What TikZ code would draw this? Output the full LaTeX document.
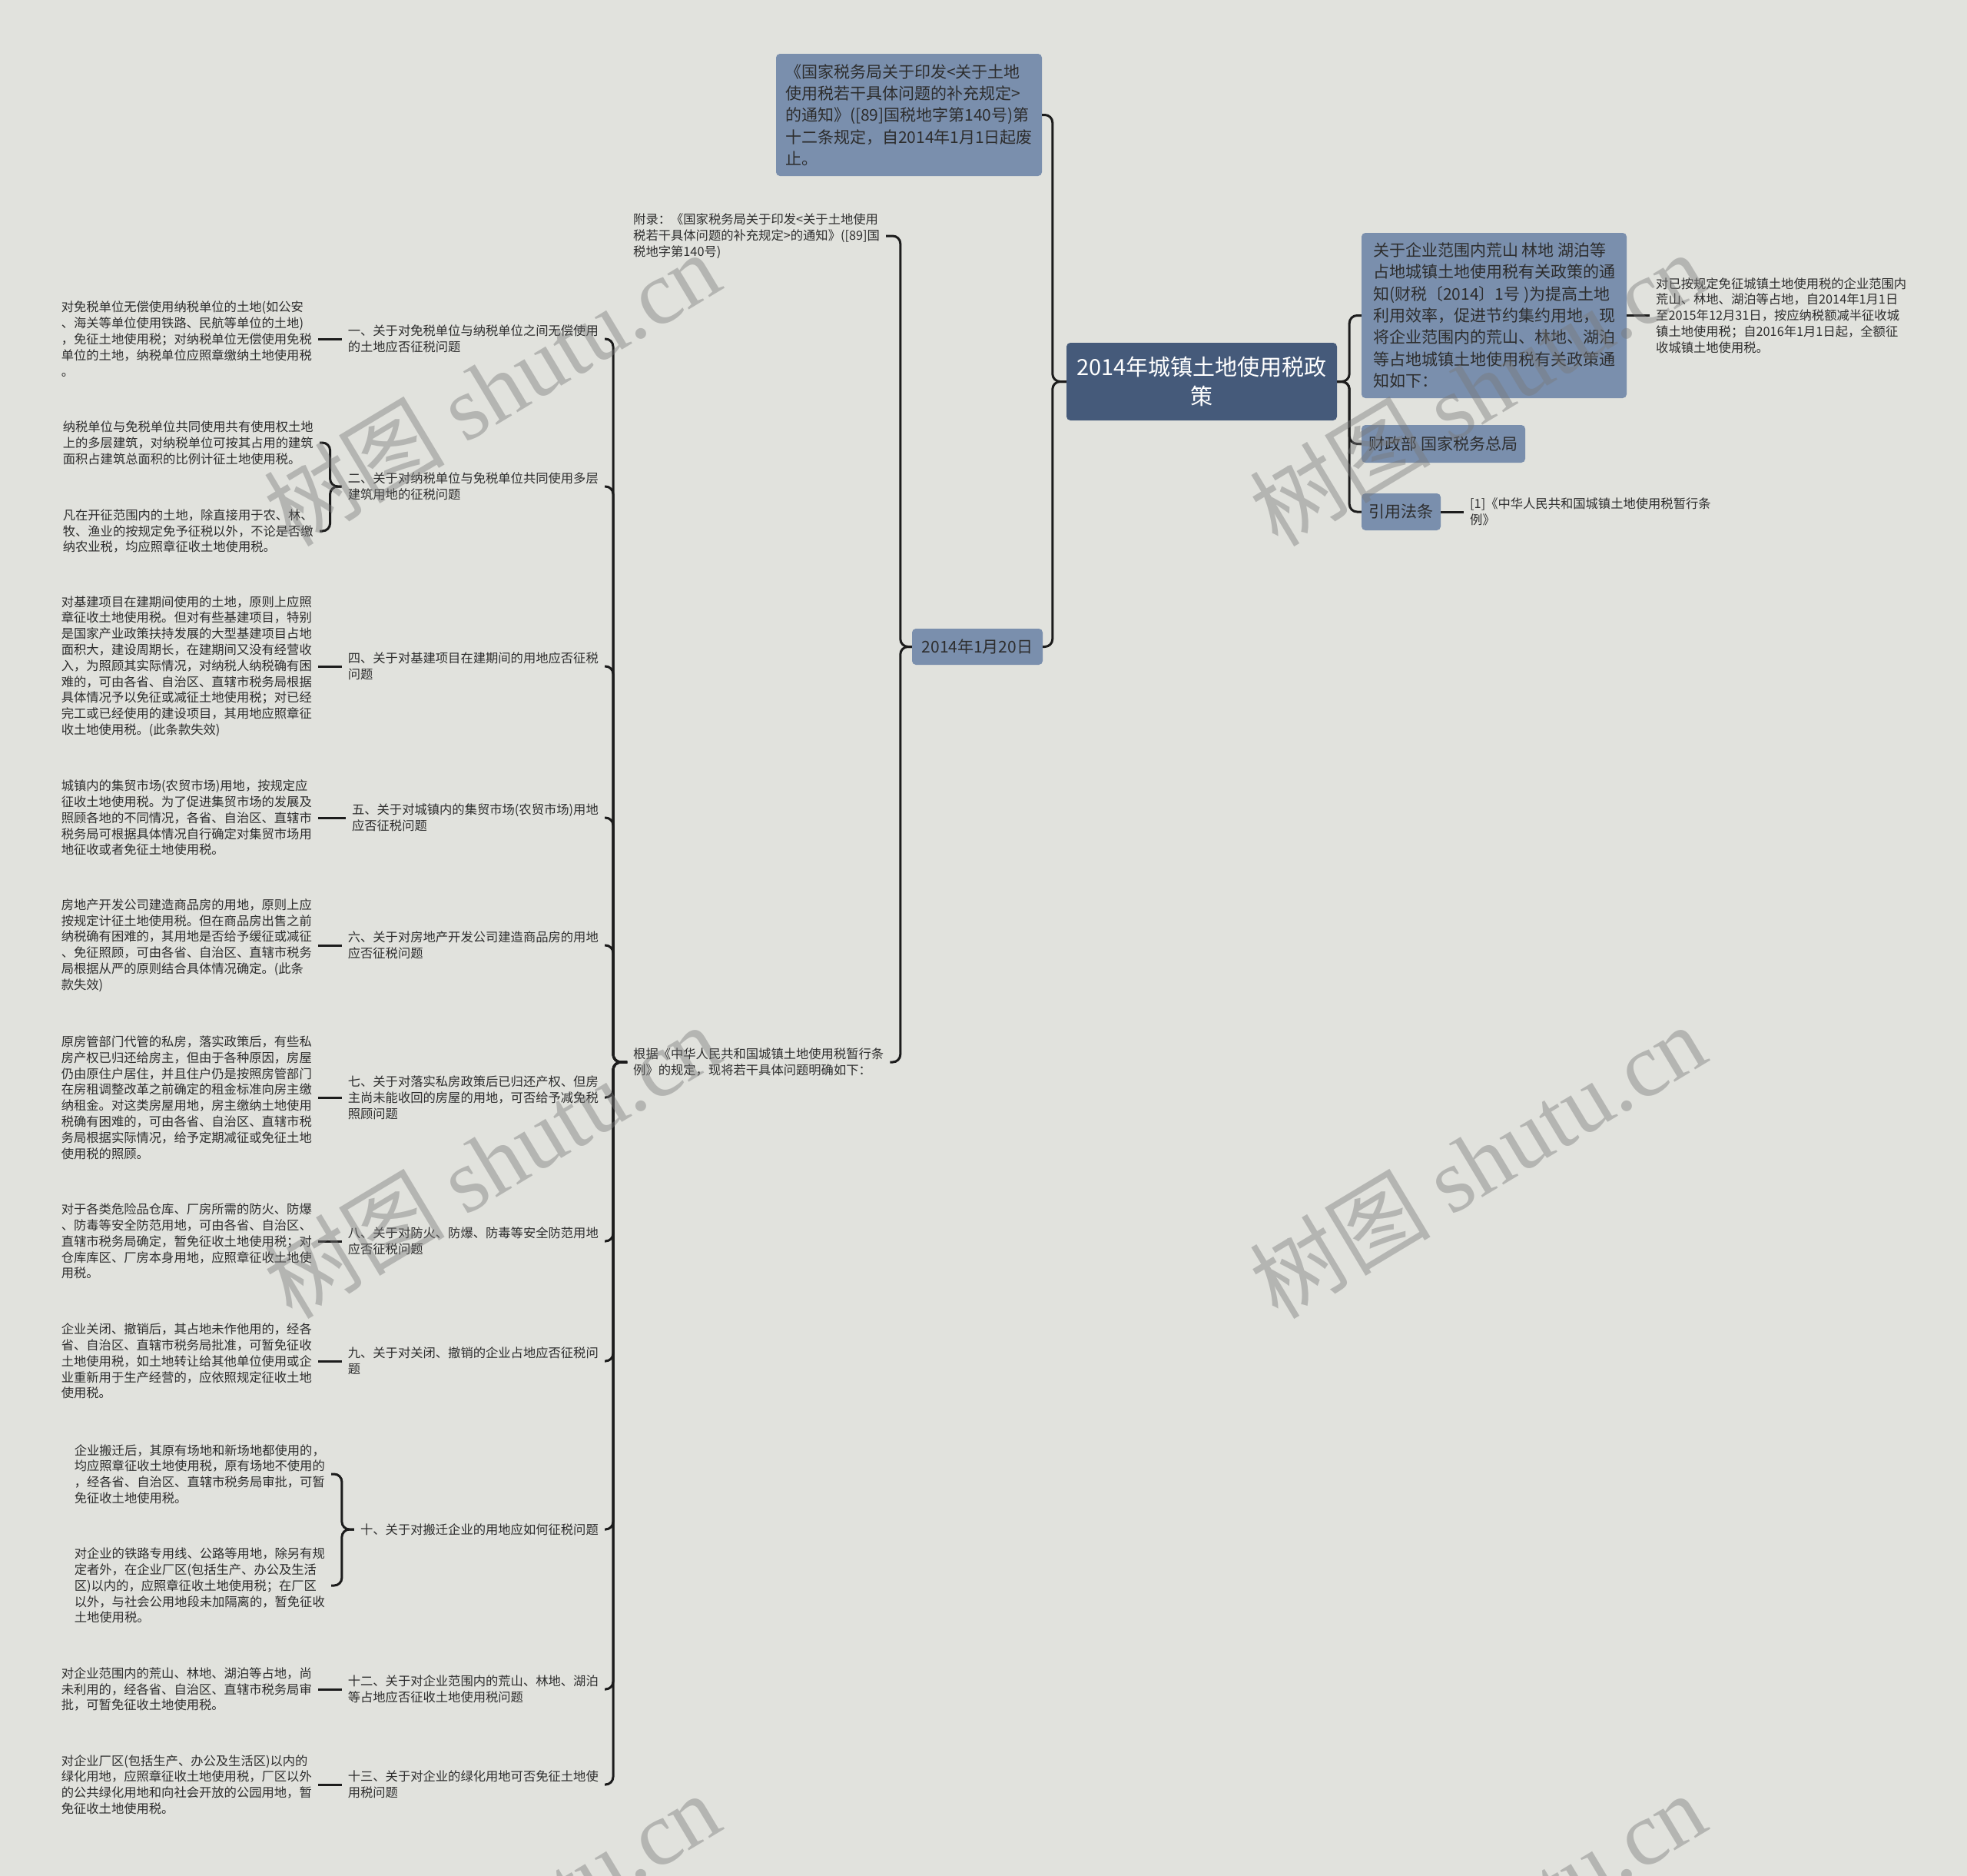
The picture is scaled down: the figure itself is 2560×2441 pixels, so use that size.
\documentclass[tikz,border=0pt]{standalone}
\usepackage{fontspec}
\setmainfont{Noto Sans CJK SC}
\newfontfamily\wmlatin{Liberation Serif}
\definecolor{bg}{RGB}{225,226,221}
\definecolor{mainfill}{RGB}{69,90,122}
\definecolor{subfill}{RGB}{122,143,173}
\definecolor{txt}{RGB}{45,45,45}
\definecolor{lnk}{RGB}{28,28,28}
\definecolor{wm}{RGB}{120,120,120}
\begin{document}
\begin{tikzpicture}[x=1pt,y=-1pt,
  conn/.style={draw=lnk,line width=3pt,rounded corners=10pt},
  mainbox/.style={fill=mainfill,rounded corners=5pt,text=white,font=\fontsize{29}{38}\selectfont,align=center,inner sep=0pt},
  subbox/.style={fill=subfill,rounded corners=5pt,text=txt,font=\fontsize{21}{28.3}\selectfont,align=left,inner sep=0pt},
  small/.style={text=txt,font=\fontsize{16.3}{20.8}\selectfont,align=left,inner xsep=8pt,inner ysep=3pt},
  wmark/.style={text=wm,opacity=0.42,rotate=31,font=\fontsize{118}{118}\selectfont}]
\fill[bg] (0,0) rectangle (2560,2441);
\useasboundingbox (0,0) rectangle (2560,2441);

% central and right side
\node[mainbox,minimum width=352pt,minimum height=101pt] (main) at (1564,496.5) {2014年城镇土地使用税政\\策};
\node[subbox,minimum width=345pt,minimum height=215pt] (A) at (1944.5,410.5) {关于企业范围内荒山 林地 湖泊等\\占地城镇土地使用税有关政策的通\\知(财税〔2014〕1号 )为提高土地\\利用效率，促进节约集约用地，现\\将企业范围内的荒山、林地、湖泊\\等占地城镇土地使用税有关政策通\\知如下：};
\node[subbox,minimum width=213pt,minimum height=49pt] (B) at (1878.5,577.5) {财政部 国家税务总局};
\node[subbox,minimum width=103pt,minimum height=48pt] (C) at (1823.5,666) {引用法条};
\node[small,anchor=west] (Ac) at (2147,410.5) {对已按规定免征城镇土地使用税的企业范围内\\荒山、林地、湖泊等占地，自2014年1月1日\\至2015年12月31日，按应纳税额减半征收城\\镇土地使用税；自2016年1月1日起，全额征\\收城镇土地使用税。};
\node[small,anchor=west] (Cc) at (1905,666) {[1]《中华人民共和国城镇土地使用税暂行条\\例》};

% left of main
\node[subbox,minimum width=346pt,minimum height=159pt] (top) at (1183,149.5) {《国家税务局关于印发<关于土地\\使用税若干具体问题的补充规定>\\的通知》([89]国税地字第140号)第\\十二条规定，自2014年1月1日起废\\止。};
\node[subbox,minimum width=170pt,minimum height=47pt] (date) at (1272,841.5) {2014年1月20日};
\node[small,anchor=west] (app) at (816,307) {附录：《国家税务局关于印发<关于土地使用\\税若干具体问题的补充规定>的通知》([89]国\\税地字第140号)};
\node[small,anchor=west] (gen) at (816,1382) {根据《中华人民共和国城镇土地使用税暂行条\\例》的规定，现将若干具体问题明确如下：};

% labels
\node[small,anchor=east] (L1) at (787,441) {一、关于对免税单位与纳税单位之间无偿使用\\的土地应否征税问题};
\node[small,anchor=east] (L2) at (787,633) {二、关于对纳税单位与免税单位共同使用多层\\建筑用地的征税问题};
\node[small,anchor=east] (L4) at (787,867) {四、关于对基建项目在建期间的用地应否征税\\问题};
\node[small,anchor=east] (L5) at (787,1064) {五、关于对城镇内的集贸市场(农贸市场)用地\\应否征税问题};
\node[small,anchor=east] (L6) at (787,1230) {六、关于对房地产开发公司建造商品房的用地\\应否征税问题};
\node[small,anchor=east] (L7) at (787,1428) {七、关于对落实私房政策后已归还产权、但房\\主尚未能收回的房屋的用地，可否给予减免税\\照顾问题};
\node[small,anchor=east] (L8) at (787,1615) {八、关于对防火、防爆、防毒等安全防范用地\\应否征税问题};
\node[small,anchor=east] (L9) at (787,1771) {九、关于对关闭、撤销的企业占地应否征税问\\题};
\node[small,anchor=east] (L10) at (787,1990) {十、关于对搬迁企业的用地应如何征税问题};
\node[small,anchor=east] (L12) at (787,2198) {十二、关于对企业范围内的荒山、林地、湖泊\\等占地应否征收土地使用税问题};
\node[small,anchor=east] (L13) at (787,2322) {十三、关于对企业的绿化用地可否免征土地使\\用税问题};

% leaf texts
\node[small,anchor=east] (c1) at (414,441) {对免税单位无偿使用纳税单位的土地(如公安\\、海关等单位使用铁路、民航等单位的土地)\\，免征土地使用税；对纳税单位无偿使用免税\\单位的土地，纳税单位应照章缴纳土地使用税\\。};
\node[small,anchor=east] (c2a) at (416,576) {纳税单位与免税单位共同使用共有使用权土地\\上的多层建筑，对纳税单位可按其占用的建筑\\面积占建筑总面积的比例计征土地使用税。};
\node[small,anchor=east] (c2b) at (416,691) {凡在开征范围内的土地，除直接用于农、林、\\牧、渔业的按规定免予征税以外，不论是否缴\\纳农业税，均应照章征收土地使用税。};
\node[small,anchor=east] (c4) at (414,867) {对基建项目在建期间使用的土地，原则上应照\\章征收土地使用税。但对有些基建项目，特别\\是国家产业政策扶持发展的大型基建项目占地\\面积大，建设周期长，在建期间又没有经营收\\入，为照顾其实际情况，对纳税人纳税确有困\\难的，可由各省、自治区、直辖市税务局根据\\具体情况予以免征或减征土地使用税；对已经\\完工或已经使用的建设项目，其用地应照章征\\收土地使用税。(此条款失效)};
\node[small,anchor=east] (c5) at (414,1064) {城镇内的集贸市场(农贸市场)用地，按规定应\\征收土地使用税。为了促进集贸市场的发展及\\照顾各地的不同情况，各省、自治区、直辖市\\税务局可根据具体情况自行确定对集贸市场用\\地征收或者免征土地使用税。};
\node[small,anchor=east] (c6) at (414,1230) {房地产开发公司建造商品房的用地，原则上应\\按规定计征土地使用税。但在商品房出售之前\\纳税确有困难的，其用地是否给予缓征或减征\\、免征照顾，可由各省、自治区、直辖市税务\\局根据从严的原则结合具体情况确定。(此条\\款失效)};
\node[small,anchor=east] (c7) at (414,1428) {原房管部门代管的私房，落实政策后，有些私\\房产权已归还给房主，但由于各种原因，房屋\\仍由原住户居住，并且住户仍是按照房管部门\\在房租调整改革之前确定的租金标准向房主缴\\纳租金。对这类房屋用地，房主缴纳土地使用\\税确有困难的，可由各省、自治区、直辖市税\\务局根据实际情况，给予定期减征或免征土地\\使用税的照顾。};
\node[small,anchor=east] (c8) at (414,1615) {对于各类危险品仓库、厂房所需的防火、防爆\\、防毒等安全防范用地，可由各省、自治区、\\直辖市税务局确定，暂免征收土地使用税；对\\仓库库区、厂房本身用地，应照章征收土地使\\用税。};
\node[small,anchor=east] (c9) at (414,1771) {企业关闭、撤销后，其占地未作他用的，经各\\省、自治区、直辖市税务局批准，可暂免征收\\土地使用税，如土地转让给其他单位使用或企\\业重新用于生产经营的，应依照规定征收土地\\使用税。};
\node[small,anchor=east] (c10a) at (431,1918) {企业搬迁后，其原有场地和新场地都使用的，\\均应照章征收土地使用税，原有场地不使用的\\，经各省、自治区、直辖市税务局审批，可暂\\免征收土地使用税。};
\node[small,anchor=east] (c10b) at (431,2063) {对企业的铁路专用线、公路等用地，除另有规\\定者外，在企业厂区(包括生产、办公及生活\\区)以内的，应照章征收土地使用税；在厂区\\以外，与社会公用地段未加隔离的，暂免征收\\土地使用税。};
\node[small,anchor=east] (c12) at (414,2198) {对企业范围内的荒山、林地、湖泊等占地，尚\\未利用的，经各省、自治区、直辖市税务局审\\批，可暂免征收土地使用税。};
\node[small,anchor=east] (c13) at (414,2322) {对企业厂区(包括生产、办公及生活区)以内的\\绿化用地，应照章征收土地使用税，厂区以外\\的公共绿化用地和向社会开放的公园用地，暂\\免征收土地使用税。};

% connectors
\foreach \n in {A,B,C} \draw[conn] (main.east) -- ++(16,0) |- (\n.west);
\draw[conn] (A.east) -- (Ac.west);
\draw[conn] (C.east) -- (Cc.west);
\draw[conn] (main.west) -- ++(-18,0) |- (top.east);
\draw[conn] (main.west) -- ++(-18,0) |- (date.east);
\draw[conn] (date.west) -- ++(-15,0) |- (app.east);
\draw[conn] (date.west) -- ++(-15,0) |- (gen.east);
\foreach \n in {L1,L2,L4,L5,L6,L7,L8,L9,L10,L12,L13} \draw[conn] (gen.west) -- ++(-18,0) |- (\n.east);
\foreach \c/\l in {c1/L1,c4/L4,c5/L5,c6/L6,c7/L7,c8/L8,c9/L9,c12/L12,c13/L13} \draw[conn] (\c.east) -- (\l.west);
\draw[conn] (L2.west) -- ++(-15,0) |- (c2a.east);
\draw[conn] (L2.west) -- ++(-15,0) |- (c2b.east);
\draw[conn] (L10.west) -- ++(-16,0) |- (c10a.east);
\draw[conn] (L10.west) -- ++(-16,0) |- (c10b.east);

% watermarks
\begin{scope}
\clip (0,0) rectangle (2560,2441);
\node[wmark] (wm1) at (640,505) {树图 {\wmlatin shutu.cn}};
\node[wmark] (wm2) at (1923,505) {树图 {\wmlatin shutu.cn}};
\node[wmark] (wm3) at (640,1510) {树图 {\wmlatin shutu.cn}};
\node[wmark] (wm4) at (1923,1510) {树图 {\wmlatin shutu.cn}};
\node[wmark] (wm5) at (640,2510) {树图 {\wmlatin shutu.cn}};
\node[wmark] (wm6) at (1923,2510) {树图 {\wmlatin shutu.cn}};
\end{scope}
\end{tikzpicture}
\end{document}
